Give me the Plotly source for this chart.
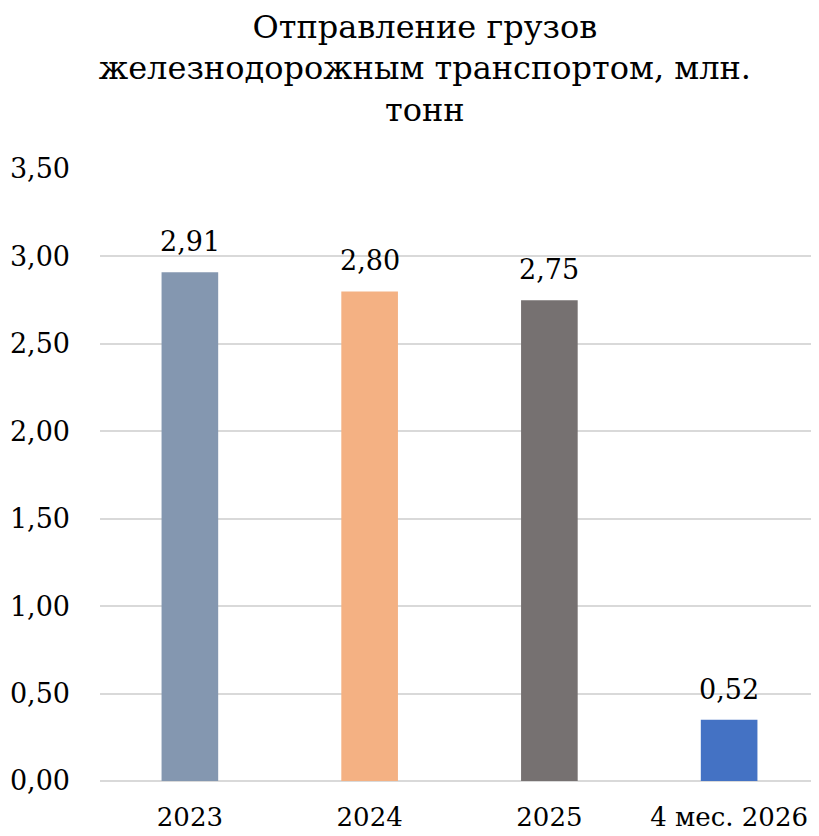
import plotly.graph_objects as go

categories = ["2023", "2024", "2025", "4 мес. 2026"]
bar_heights = [2.91, 2.80, 2.75, 0.35]
value_labels = ["2,91", "2,80", "2,75", "0,52"]
bar_colors = ["#8497B0", "#F4B183", "#767171", "#4472C4"]
y_ticks = [0, 0.5, 1.0, 1.5, 2.0, 2.5, 3.0, 3.5]

FONT = "DejaVu Serif"

positions = list(range(len(categories)))

fig = go.Figure()
fig.add_trace(go.Bar(
    x=positions, y=bar_heights, width=0.315,
    marker=dict(color=bar_colors, line=dict(width=0)),
    hoverinfo="skip",
))

for p, h, lab in zip(positions, bar_heights, value_labels):
    fig.add_annotation(x=p, y=h, text=lab, showarrow=False,
                       yanchor="bottom", yshift=13,
                       font=dict(family=FONT, size=27, color="#000000"))

fig.update_layout(
    width=811, height=828,
    margin=dict(l=92, r=0, t=161, b=55),
    paper_bgcolor="white", plot_bgcolor="white",
    separators=", ",
    showlegend=False,
    title=dict(
        text="Отправление грузов<br>железнодорожным транспортом, млн.<br>тонн",
        x=0.514, xanchor="center", xref="container",
        y=0.964, yanchor="middle", yref="container",
        font=dict(family=FONT, size=32, color="#000000"),
    ),
    font=dict(family=FONT, color="#000000"),
)
fig.update_xaxes(
    range=[-0.5, 3.5], tickvals=positions, ticktext=categories,
    showgrid=False, showline=False, zeroline=False,
    ticks="", tickfont=dict(family=FONT, size=26, color="#000000"),
    ticklabelstandoff=18,
)
fig.update_yaxes(
    range=[0, 3.5], tickvals=y_ticks, tickformat=".2f",
    showgrid=True, gridcolor="#D9D9D9", gridwidth=1.5,
    zeroline=True, zerolinecolor="#D9D9D9", zerolinewidth=1.5,
    showline=False, ticks="",
    tickfont=dict(family=FONT, size=27, color="#000000"),
    ticklabelstandoff=29,
)

fig.write_html("out.html")
